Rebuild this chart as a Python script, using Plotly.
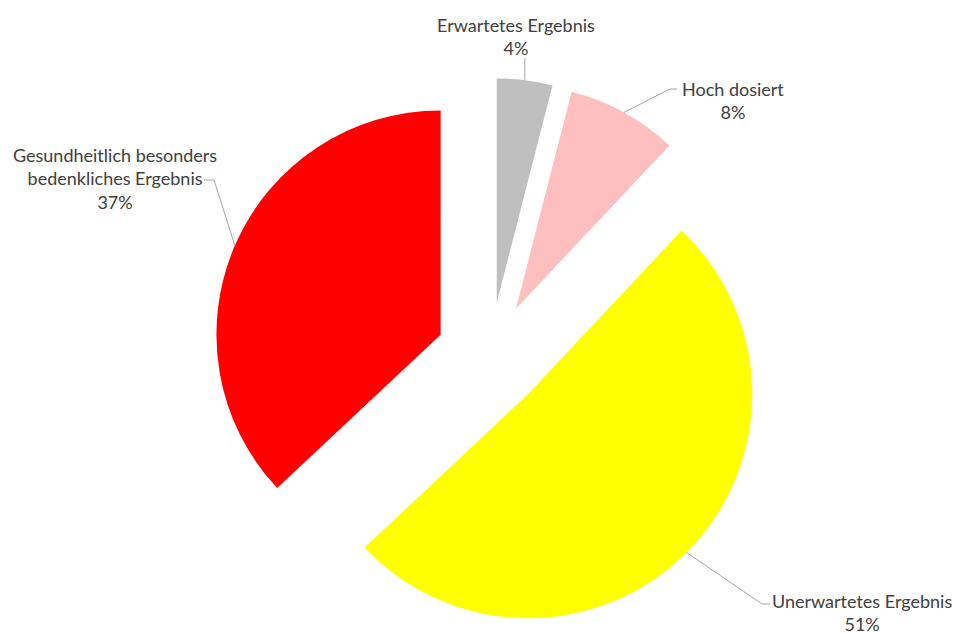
import math
import plotly.graph_objects as go

# Data
labels = ["Erwartetes Ergebnis", "Hoch dosiert", "Unerwartetes Ergebnis",
          "Gesundheitlich besonders bedenkliches Ergebnis"]
label_lines = [["Erwartetes Ergebnis"], ["Hoch dosiert"], ["Unerwartetes Ergebnis"],
               ["Gesundheitlich besonders", "bedenkliches Ergebnis"]]
values = [4, 8, 51, 37]
colors = ["#BFBFBF", "#FFBFBF", "#FFFF00", "#FF0000"]

# Layout (pixels)
FIG_W, FIG_H = 958, 634
PULL = 0.24
BOX_CX, BOX_W, BOX_H = 490, 600, 556

# label placement: text centre, then leader elbow and end points (pixels)
label_pos = [(516, 37), (733, 100), (862, 612), (115, 178)]
leader_pts = [
    [("anchor_x", 58)],
    [(670, 89), (677, 89)],
    [(762, 604), (770, 604)],
    [(214, 180), (204, 180)],
]

TEXT_COLOR = "#404040"
LINE_COLOR = "#A6A6A6"
FONT = "Lato"
FONT_SIZE = 18


def px(x):
    return x / FIG_W


def py(y):
    return 1 - y / FIG_H


dom_x = [(BOX_CX - BOX_W / 2) / FIG_W, (BOX_CX + BOX_W / 2) / FIG_W]
dom_y = [0, BOX_H / FIG_H]

fig = go.Figure(go.Pie(
    labels=labels,
    values=values,
    marker=dict(colors=colors, line=dict(width=0)),
    pull=[PULL] * len(values),
    sort=False,
    direction="clockwise",
    rotation=0,
    textinfo="none",
    hoverinfo="label+percent",
    showlegend=False,
    domain=dict(x=dom_x, y=dom_y),
))

# pie geometry as laid out by plotly
r = min(BOX_W, BOX_H) / 2 / (1 + PULL)
cx = BOX_CX
cy = FIG_H - BOX_H / 2
total = sum(values)

annotations = []
shapes = []
cum = 0
for i, v in enumerate(values):
    mid = math.radians(360 * (cum + v / 2) / total)
    cum += v
    ax = cx + (1 + PULL) * r * math.sin(mid)
    ay = cy - (1 + PULL) * r * math.cos(mid)

    pct = round(100 * v / total)
    text = "<br>".join(label_lines[i] + [f"{pct}%"])
    tx, ty = label_pos[i]
    annotations.append(dict(
        x=px(tx), y=py(ty), xref="paper", yref="paper",
        text=text, showarrow=False, xanchor="center", yanchor="middle",
        align="center", font=dict(family=FONT, size=FONT_SIZE, color=TEXT_COLOR),
    ))

    pts = [(ax, ay)]
    for (x, y) in leader_pts[i]:
        pts.append((ax if x == "anchor_x" else x, y))
    for (x0, y0), (x1, y1) in zip(pts[:-1], pts[1:]):
        shapes.append(dict(
            type="line", xref="paper", yref="paper",
            x0=px(x0), y0=py(y0), x1=px(x1), y1=py(y1),
            line=dict(color=LINE_COLOR, width=1),
        ))

fig.update_layout(
    width=FIG_W, height=FIG_H,
    margin=dict(l=0, r=0, t=0, b=0),
    paper_bgcolor="white",
    plot_bgcolor="white",
    annotations=annotations,
    shapes=shapes,
)

fig.write_html("out.html")
